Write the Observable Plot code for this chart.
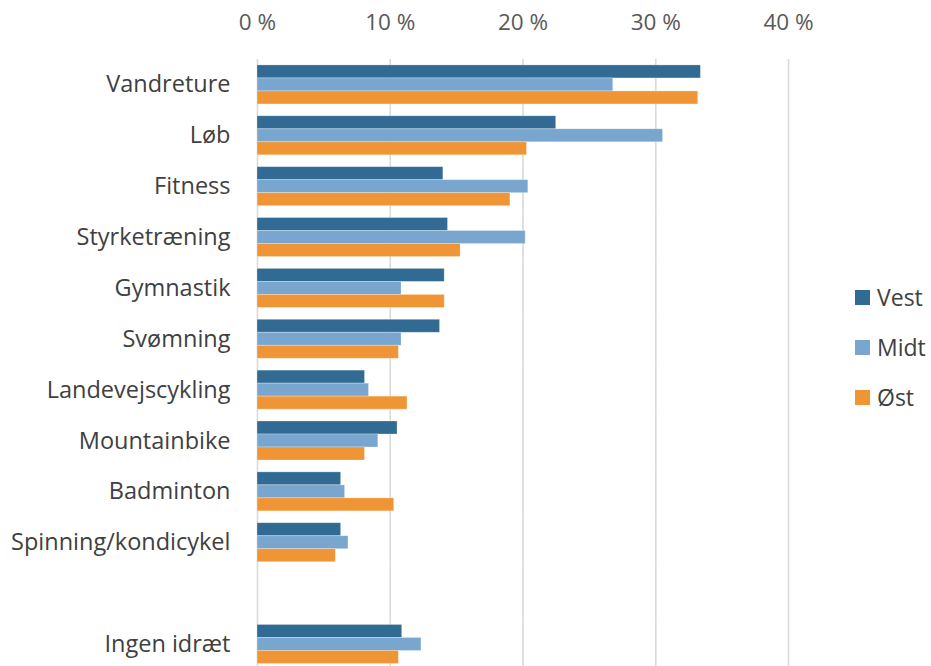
<!DOCTYPE html>
<html>
<head>
<meta charset="utf-8">
<script src="https://cdn.jsdelivr.net/npm/d3@7"></script>
<script src="https://cdn.jsdelivr.net/npm/@observablehq/plot@0.6"></script>
<style>
  body { margin: 0; background: #fff; }
  #wrap { position: relative; width: 931px; height: 666px; overflow: hidden; }
  #legend { position: absolute; left: 855px; top: 272px; font-family: "Open Sans", sans-serif; font-size: 23px; color: #404040; }
  #legend div { height: 50px; display: flex; align-items: center; }
  #legend span.sw { display: inline-block; width: 15px; height: 15px; margin-right: 7px; }
</style>
</head>
<body>
<div id="wrap"><div id="chart"></div><div id="legend"></div></div>
<script>
const categories = ["Vandreture", "Løb", "Fitness", "Styrketræning", "Gymnastik", "Svømning",
  "Landevejscykling", "Mountainbike", "Badminton", "Spinning/kondicykel", " ", "Ingen idræt"];
const series = ["Vest", "Midt", "Øst"];
const colors = ["#316A92", "#78A6CF", "#EF9535"];
const vest = [33.4, 22.5, 14.0, 14.35, 14.1, 13.75, 8.1, 10.55, 6.3, 6.3, null, 10.9];
const midt = [26.8, 30.55, 20.4, 20.2, 10.85, 10.85, 8.4, 9.1, 6.6, 6.85, null, 12.35];
const ost  = [33.2, 20.3, 19.05, 15.3, 14.1, 10.65, 11.3, 8.1, 10.3, 5.9, null, 10.65];
const xTicks = [0, 10, 20, 30, 40];

const rows = [];
categories.forEach((c, i) => {
  [vest, midt, ost].forEach((arr, j) => {
    if (arr[i] != null) rows.push({category: c, region: series[j], value: arr[i]});
  });
});
// grid lines for every category band (including the empty gap) so they stay continuous
const gridRows = [];
categories.forEach(c => xTicks.forEach(t => gridRows.push({category: c, tick: t})));

const chart = Plot.plot({
  width: 931,
  height: 666,
  marginTop: 59,
  marginBottom: -3.4,
  marginLeft: 257,
  marginRight: 143,
  style: {fontFamily: "'Open Sans', sans-serif", background: "#fff"},
  x: {domain: [0, 40], axis: null},
  y: {domain: series, axis: null, paddingInner: 0, paddingOuter: 0.456, round: false},
  fy: {domain: categories, padding: 0, label: null, axis: null, round: false},
  color: {domain: series, range: colors},
  marks: [
    Plot.ruleX(gridRows, {x: "tick", fy: "category", stroke: "#d9d9d9", strokeWidth: 1.6}),
    Plot.barX(rows, {fy: "category", y: "region", x: "value", fill: "region", inset: 0,
      stroke: "#ffffff", strokeOpacity: 0.35, strokeWidth: 0.8}),
    Plot.axisFy({anchor: "left", tickSize: 0, tickPadding: 27, fontSize: 23.5, color: "#404040", label: null}),
    Plot.axisX(xTicks, {anchor: "top", tickSize: 0, tickPadding: 30, fontSize: 22.5, color: "#595959",
      tickFormat: d => d + " %", label: null, facetAnchor: "top"})
  ]
});
document.getElementById("chart").appendChild(chart);

const legend = document.getElementById("legend");
series.forEach((s, i) => {
  const d = document.createElement("div");
  d.innerHTML = `<span class="sw" style="background:${colors[i]}"></span>${s}`;
  legend.appendChild(d);
});
</script>
</body>
</html>
